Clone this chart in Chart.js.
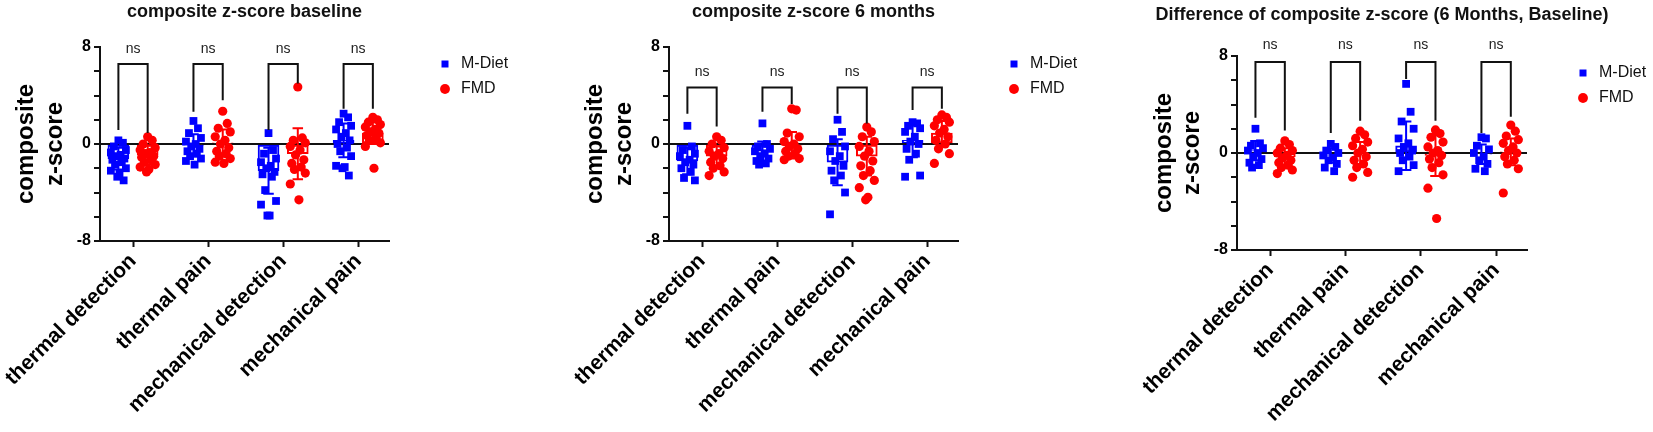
<!DOCTYPE html>
<html lang="en">
<head>
  <meta charset="utf-8">
  <title>Composite z-score</title>
  <style>
    html, body { margin: 0; padding: 0; background: #fff; }
    body { width: 1653px; height: 432px; position: relative; overflow: hidden; }
    .panel { position: absolute; top: 0; height: 432px; }
  </style>
</head>
<body>
<div class="panel" style="left:0px;width:518px"><canvas id="baselineCanvas"></canvas></div>
<div class="panel" style="left:569px;width:518px"><canvas id="sixMonthCanvas"></canvas></div>
<div class="panel" style="left:1118px;width:538px"><canvas id="differenceCanvas"></canvas></div>

<script src="https://cdn.jsdelivr.net/npm/chart.js"></script>
<script>

   const CATEGORIES = ['thermal detection', 'thermal pain', 'mechanical detection', 'mechanical pain'];
   const SERIES = ['M-Diet', 'FMD'];
   const Y_TICK_LABELS = [-8, 0, 8];
   const SIGNIFICANCE = ['ns', 'ns', 'ns', 'ns'];

   // composite z-score baseline
   const baselineMDiet = [
      [0.3, 0.1, -0.2, -0.5, -0.7, -0.9, -1.0, -1.2, -1.3, -1.5, -1.7, -2.0, -2.2, -2.4, -2.7, -3.0],
      [1.9, 1.3, 0.9, 0.5, 0.2, 0.0, -0.2, -0.4, -0.6, -0.8, -1.0, -1.2, -1.4, -1.7],
      [0.9, -0.5, -0.8, -1.2, -1.5, -1.8, -2.0, -2.3, -2.5, -2.7, -3.8, -4.7, -5.0, -5.9, -5.9],
      [2.5, 2.2, 1.8, 1.5, 1.2, 0.9, 0.6, 0.3, 0.0, -0.3, -0.6, -1.0, -1.8, -1.9, -2.0, -2.6]
   ];
   const baselineFMD = [
      [0.6, 0.3, 0.0, -0.3, -0.5, -0.7, -0.8, -1.0, -1.1, -1.3, -1.5, -1.7, -1.9, -2.1, -2.3],
      [2.7, 1.7, 1.3, 1.0, 0.6, 0.3, 0.0, -0.3, -0.6, -0.8, -1.0, -1.2, -1.5, -1.6],
      [4.7, 0.5, 0.3, 0.1, -0.2, -0.5, -0.9, -1.3, -1.6, -1.9, -2.1, -2.4, -3.3, -4.6],
      [2.2, 2.0, 1.8, 1.6, 1.4, 1.2, 1.0, 0.9, 0.7, 0.5, 0.3, 0.1, -0.2, -2.0]
   ];
   const baselineMDietMean = [-1.2, -0.1, -2.2, 0.3];
   const baselineMDietSD = [0.9, 0.9, 1.9, 1.4];
   const baselineFMDMean = [-0.9, 0.1, -0.8, 0.9];
   const baselineFMDSD = [0.8, 1.1, 2.1, 0.9];
   const baselineLegMDiet = [1.15, 2.65, 1.15, 2.9];
   const baselineLegFMD = [0.9, 3.6, 5.0, 2.9];

   // composite z-score 6 months
   const sixMonthMDiet = [
      [1.5, -0.2, -0.5, -0.8, -1.0, -1.3, -1.5, -1.7, -2.0, -2.3, -2.8, -3.0],
      [1.7, 0.0, -0.2, -0.4, -0.6, -0.8, -1.0, -1.2, -1.4, -1.6, -1.7],
      [2.0, 1.0, 0.4, -0.2, -0.6, -1.0, -1.4, -1.8, -2.2, -2.6, -3.0, -4.0, -5.8],
      [1.8, 1.7, 1.5, 1.3, 1.0, 0.6, 0.2, 0.0, -0.4, -0.8, -1.3, -2.6, -2.7]
   ];
   const sixMonthFMD = [
      [0.6, 0.3, 0.0, -0.3, -0.6, -0.8, -1.0, -1.2, -1.5, -1.8, -2.0, -2.3, -2.6],
      [2.9, 2.8, 0.9, 0.6, 0.2, 0.0, -0.2, -0.4, -0.6, -0.8, -1.0, -1.2, -1.3],
      [1.4, 1.0, 0.6, 0.2, -0.2, -0.6, -1.0, -1.4, -1.8, -2.2, -2.6, -3.0, -3.6, -4.4, -4.6],
      [2.4, 2.2, 2.0, 1.8, 1.5, 1.2, 0.9, 0.6, 0.3, 0.0, -0.4, -0.8, -1.6]
   ];
   const sixMonthMDietMean = [-1.4, -0.6, -1.5, 0.3];
   const sixMonthMDietSD = [1.1, 0.8, 1.9, 1.4];
   const sixMonthFMDMean = [-1.0, -0.1, -1.0, 0.9];
   const sixMonthFMDSD = [0.8, 1.1, 1.6, 1.0];
   const sixMonthLegMDiet = [2.5, 2.65, 2.5, 2.8];
   const sixMonthLegFMD = [1.45, 3.3, 1.7, 2.9];

   // Difference of composite z-score (6 Months, Baseline)
   const differenceMDiet = [
      [2.0, 0.8, 0.6, 0.4, 0.2, 0.0, -0.3, -0.5, -0.8, -1.0, -1.2],
      [0.75, 0.5, 0.2, 0.0, -0.2, -0.4, -0.6, -0.9, -1.2, -1.5],
      [5.7, 3.4, 2.6, 2.0, 1.2, 0.8, 0.5, 0.2, 0.0, -0.3, -0.6, -1.0, -1.5],
      [1.3, 1.2, 0.6, 0.3, 0.0, -0.3, -0.6, -0.9, -1.3, -1.5]
   ];
   const differenceFMD = [
      [1.0, 0.7, 0.4, 0.2, 0.0, -0.2, -0.4, -0.6, -0.8, -1.0, -1.2, -1.4, -1.7],
      [1.8, 1.5, 1.2, 0.9, 0.6, 0.3, 0.0, -0.3, -0.6, -0.9, -1.2, -1.6, -2.0],
      [1.9, 1.6, 1.3, 0.9, 0.5, 0.2, 0.0, -0.2, -0.5, -0.8, -1.2, -1.8, -2.9, -5.4],
      [2.3, 1.8, 1.4, 1.1, 0.8, 0.5, 0.2, 0.0, -0.3, -0.6, -0.9, -1.3, -3.3]
   ];
   const differenceMDietMean = [0.2, -0.2, 0.6, -0.1];
   const differenceMDietSD = [0.8, 0.6, 2.0, 0.8];
   const differenceFMDMean = [-0.3, 0.0, -0.2, 0.1];
   const differenceFMDSD = [0.7, 0.9, 1.7, 1.1];
   const differenceLegMDiet = [2.9, 1.65, 6.1, 1.65];
   const differenceLegFMD = [1.85, 2.65, 2.65, 3.0];

   // styling
   const COLORS = ['#0000ff', '#ff0000'];
   const POINT_STYLES = ['rect', 'circle'];
   const POINT_RADII = [5.5, 4.6];
   const GROUP_OFFSET = 0.195;
   const CAP = 0.07;
   const JITTER = [0, 0.06, -0.06, 0.1, -0.1, 0.03, -0.03, 0.08, -0.08, 0.045, -0.045, 0.1, -0.1, 0.015, -0.015, 0.07, -0.07];

   Chart.defaults.font.family = '"Liberation Sans", Arial, sans-serif';
   Chart.defaults.color = '#111';

   function gap(){ return {x: null, y: null}; }

   function scatterPoints(groups, offset){
      var pts = [];
      groups.forEach(function(vals, i){
         vals.forEach(function(v, j){
            pts.push({x: i + offset + JITTER[j % JITTER.length], y: v});
         });
      });
      return pts;
   }

   function errorSegments(means, sds, offset){
      var pts = [];
      means.forEach(function(m, i){
         var x = i + offset, lo = m - sds[i], hi = m + sds[i];
         pts.push({x: x, y: lo}, {x: x, y: hi}, gap(),
                  {x: x - CAP, y: lo}, {x: x + CAP, y: lo}, gap(),
                  {x: x - CAP, y: hi}, {x: x + CAP, y: hi}, gap());
      });
      return pts;
   }

   function bracketSegments(legA, legB, top){
      var pts = [];
      legA.forEach(function(a, i){
         pts.push({x: i - GROUP_OFFSET, y: a}, {x: i - GROUP_OFFSET, y: top},
                  {x: i + GROUP_OFFSET, y: top}, {x: i + GROUP_OFFSET, y: legB[i]}, gap());
      });
      return pts;
   }

   const nsLabels = {
      id: 'nsLabels',
      afterDatasetsDraw(chart, args, opts) {
         const ctx = chart.ctx, xs = chart.scales.x, ys = chart.scales.y;
         ctx.save();
         ctx.font = '14px "Liberation Sans", Arial, sans-serif';
         ctx.fillStyle = '#222';
         ctx.textAlign = 'center';
         ctx.textBaseline = 'middle';
         opts.labels.forEach(function(t, i){
            ctx.fillText(t, xs.getPixelForValue(i), ys.getPixelForValue(opts.at));
         });
         ctx.restore();
      }
   };

   function DrawPanel(canvasId, p){
      var groups = [p.mdiet, p.fmd], means = [p.mdietMean, p.fmdMean], sds = [p.mdietSD, p.fmdSD];
      var datasets = [];
      [0, 1].forEach(function(k){
         var off = k === 0 ? -GROUP_OFFSET : GROUP_OFFSET;
         datasets.push({
            type: 'bar', label: '', order: 3,
            data: means[k].map(function(m, i){ return {x: i + off, y: m}; }),
            backgroundColor: '#ffffff', borderColor: COLORS[k], borderWidth: 2,
            borderSkipped: false, barThickness: 21, grouped: false
         });
         datasets.push({
            type: 'scatter', label: SERIES[k], order: 2,
            data: scatterPoints(groups[k], off),
            pointStyle: POINT_STYLES[k], pointRadius: POINT_RADII[k],
            backgroundColor: COLORS[k], borderColor: COLORS[k], borderWidth: 0
         });
         datasets.push({
            type: 'line', label: '', order: 1,
            data: errorSegments(means[k], sds[k], off),
            borderColor: COLORS[k], borderWidth: 2, pointRadius: 0, spanGaps: false, fill: false
         });
      });
      datasets.push({
         type: 'line', label: '', order: 0,
         data: bracketSegments(p.legMDiet, p.legFMD, p.bracketTop),
         borderColor: '#111', borderWidth: 2, pointRadius: 0, spanGaps: false, fill: false
      });

      new Chart(document.getElementById(canvasId), {
         type: 'scatter',
         data: { datasets: datasets },
         plugins: [nsLabels],
         options: {
            responsive: true,
            maintainAspectRatio: false,
            animation: false,
            events: [],
            layout: { padding: { left: p.padLeft, right: 10, top: 0, bottom: 0 } },
            plugins: {
               tooltip: { enabled: false },
               title: {
                  display: true, text: p.title, fullSize: p.titleFull,
                  font: { size: 18, weight: 'bold' }, color: '#111',
                  padding: { top: p.titleTop, bottom: p.titleBottom }
               },
               legend: {
                  position: 'right', align: 'start', fullSize: false, maxWidth: 80,
                  labels: {
                     usePointStyle: true, boxWidth: 16, boxHeight: 7, padding: 9,
                     font: { size: 16 }, color: '#111',
                     filter: function(item){ return SERIES.includes(item.text); }
                  }
               },
               nsLabels: { labels: SIGNIFICANCE, at: p.nsAt }
            },
            scales: {
               x: {
                  type: 'linear', min: -0.44, max: 3.41, offset: false,
                  afterBuildTicks: function(s){ s.ticks = CATEGORIES.map(function(c, i){ return {value: i}; }); },
                  afterFit: function(s){ s.height = p.xHeight; s.paddingLeft = 0; s.paddingRight = 0; },
                  ticks: {
                     callback: function(v){ return CATEGORIES[v]; },
                     autoSkip: false, minRotation: 45, maxRotation: 45, padding: 2,
                     font: { size: 21, weight: 'bold' }, color: '#000'
                  },
                  grid: { drawOnChartArea: false, tickLength: 6, tickWidth: 2, tickColor: '#111', offset: false },
                  border: { color: '#111', width: 2 }
               },
               y: {
                  type: 'linear', min: -8, max: 8,
                  afterFit: function(s){ s.width = p.yWidth; },
                  ticks: {
                     stepSize: 2,
                     callback: function(v){ return Y_TICK_LABELS.includes(v) ? String(v) : ''; },
                     font: { size: 16, weight: 'bold' }, color: '#000', padding: 3
                  },
                  grid: {
                     color: function(c){ return (c.tick && c.tick.value === 0) ? '#111' : 'rgba(0,0,0,0)'; },
                     lineWidth: 2, tickLength: 6, tickWidth: 2, tickColor: '#111'
                  },
                  border: { color: '#111', width: 2 },
                  title: {
                     display: true, text: ['composite', 'z-score'],
                     font: { size: 24, weight: 'bold' }, color: '#000',
                     padding: { top: p.yTitlePad, bottom: 0 }
                  }
               },
               yGap: {
                  type: 'linear', position: 'right', display: true,
                  ticks: { display: false }, grid: { display: false }, border: { display: false },
                  afterFit: function(s){ s.width = 39; }
               }
            }
         }
      });
   }

   DrawPanel('baselineCanvas', {
      title: 'composite z-score baseline',
      mdiet: baselineMDiet, fmd: baselineFMD,
      mdietMean: baselineMDietMean, mdietSD: baselineMDietSD,
      fmdMean: baselineFMDMean, fmdSD: baselineFMDSD,
      legMDiet: baselineLegMDiet, legFMD: baselineLegFMD,
      bracketTop: 6.6, nsAt: 7.85,
      titleFull: false, titleTop: 1, titleBottom: 24.4, xHeight: 191,
      padLeft: 10, yWidth: 90, yTitlePad: 2
   });

   DrawPanel('sixMonthCanvas', {
      title: 'composite z-score 6 months',
      mdiet: sixMonthMDiet, fmd: sixMonthFMD,
      mdietMean: sixMonthMDietMean, mdietSD: sixMonthMDietSD,
      fmdMean: sixMonthFMDMean, fmdSD: sixMonthFMDSD,
      legMDiet: sixMonthLegMDiet, legFMD: sixMonthLegFMD,
      bracketTop: 4.65, nsAt: 5.9,
      titleFull: false, titleTop: 1, titleBottom: 24.4, xHeight: 191,
      padLeft: 10, yWidth: 90, yTitlePad: 2
   });

   DrawPanel('differenceCanvas', {
      title: 'Difference of composite z-score (6 Months, Baseline)',
      mdiet: differenceMDiet, fmd: differenceFMD,
      mdietMean: differenceMDietMean, mdietSD: differenceMDietSD,
      fmdMean: differenceFMDMean, fmdSD: differenceFMDSD,
      legMDiet: differenceLegMDiet, legFMD: differenceLegFMD,
      bracketTop: 7.5, nsAt: 8.9,
      titleFull: true, titleTop: 4, titleBottom: 30.4, xHeight: 182,
      padLeft: 0, yWidth: 119, yTitlePad: 31.6
   });

</script>
</body>
</html>
